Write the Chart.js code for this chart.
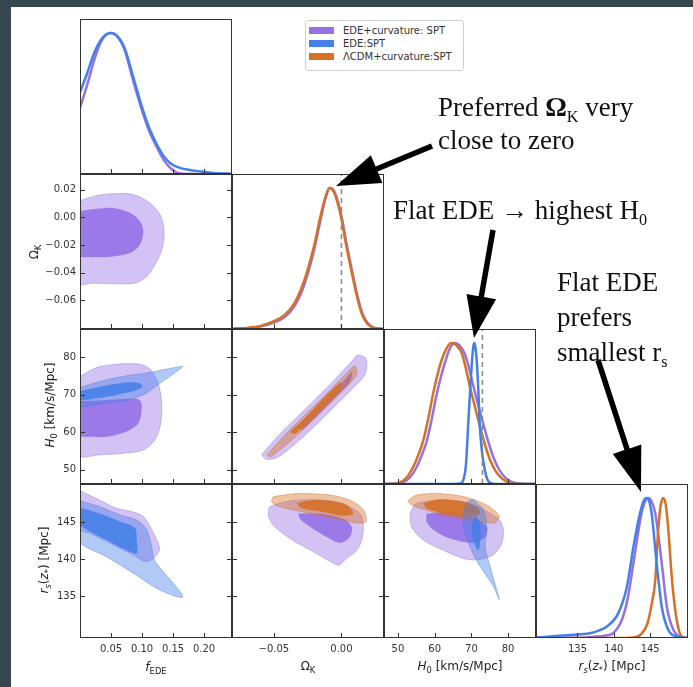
<!DOCTYPE html>
<html>
<head>
<meta charset="utf-8">
<script src="https://cdn.jsdelivr.net/npm/chart.js@4.4.0/dist/chart.umd.min.js"></script>
<style>
html, body { margin: 0; padding: 0; }
body { width: 693px; height: 687px; background: #37474f; position: relative; overflow: hidden; font-family: "DejaVu Sans", sans-serif; }
#sheet { position: absolute; left: 11px; top: 7px; right: 0; bottom: 0; background: #fff; }
canvas { position: absolute; }
.lab { position: absolute; font-size: 12px; color: #222; white-space: nowrap; transform: translate(-50%, -50%); }
.lab.rot { transform: translate(-50%, -50%) rotate(-90deg); }
.lab sub { font-size: 70%; line-height: 0; vertical-align: -0.3em; }
.note { position: absolute; font-family: "Liberation Serif", serif; font-size: 27px; color: #111; white-space: nowrap; }
.note sub { font-size: 60%; line-height: 0; vertical-align: -0.35em; }
#legend { position: absolute; left: 305px; top: 20px; width: 157px; height: 49px; border: 1px solid #d0d0d0; border-radius: 3px; background: #fff; font-size: 10px; color: #333; }
#legend .row { position: absolute; left: 3px; height: 12px; line-height: 12px; white-space: nowrap; }
#legend .sw { display: inline-block; width: 25px; height: 7px; vertical-align: middle; margin-right: 9px; position: relative; top: -1px; }
svg { position: absolute; left: 0; top: 0; }
</style>
</head>
<body>
<div id="sheet"></div>

<script>
// axis ranges and tick values
const fRange = [0, 0.245];
const kRange = [-0.081, 0.0315];
const hRange = [46.2, 87.6];
const rRange = [129.3, 150.2];
const fTicks = [0.05, 0.10, 0.15, 0.20];
const kTicks = [-0.05, 0.00];
const kTicksY = [0.02, 0.00, -0.02, -0.04, -0.06];
const hTicks = [50, 60, 70, 80];
const rTicks = [135, 140, 145];
const kRef = 0;    // dashed line, Omega_K panel
const h0Ref = 73;  // dashed line, H0 panel

const seriesNames = ["EDE+curvature: SPT", "EDE:SPT", "\u039BCDM+curvature:SPT"];

// 1D marginals [value, relative density]
const pF1 = [[0,0.47],[0.012,0.64],[0.023,0.81],[0.034,0.94],[0.049,1.0],[0.061,0.97],[0.072,0.88],[0.084,0.69],[0.1,0.45],[0.112,0.3],[0.124,0.19],[0.135,0.1],[0.145,0.045],[0.155,0.012],[0.165,0.002],[0.18,0],[0.245,0]];
const bF1 = [[0,0.58],[0.012,0.72],[0.023,0.86],[0.035,0.96],[0.05,1.0],[0.062,0.97],[0.073,0.88],[0.085,0.70],[0.101,0.46],[0.113,0.31],[0.125,0.2],[0.136,0.12],[0.146,0.075],[0.16,0.045],[0.175,0.03],[0.195,0.018],[0.215,0.008],[0.245,0.002]];

const pK1 = [[-0.081,0.001],[-0.07,0.006],[-0.06,0.018],[-0.05,0.045],[-0.042,0.085],[-0.035,0.16],[-0.03,0.25],[-0.025,0.39],[-0.02,0.57],[-0.016,0.75],[-0.012,0.92],[-0.0085,1.0],[-0.0055,0.98],[-0.0025,0.9],[0.0005,0.78],[0.0035,0.62],[0.0075,0.43],[0.0115,0.25],[0.0155,0.11],[0.0195,0.04],[0.0245,0.008],[0.0315,0]];
const oK1 = [[-0.081,0.001],[-0.07,0.008],[-0.06,0.022],[-0.05,0.055],[-0.042,0.1],[-0.035,0.18],[-0.03,0.28],[-0.025,0.42],[-0.02,0.6],[-0.016,0.78],[-0.012,0.93],[-0.009,1.0],[-0.006,0.98],[-0.003,0.9],[0.0,0.78],[0.003,0.62],[0.007,0.43],[0.011,0.25],[0.015,0.11],[0.019,0.04],[0.024,0.008],[0.0315,0]];

const pH1 = [[46.2,0],[49.5,0.002],[51.3,0.01],[53.2,0.045],[55,0.115],[56.4,0.2],[57.8,0.3],[59.2,0.46],[60.5,0.63],[61.8,0.77],[62.9,0.87],[64.1,0.96],[65.3,1.0],[66.7,0.985],[68.1,0.93],[69.3,0.83],[70.4,0.71],[71.8,0.565],[73.2,0.43],[74.6,0.3],[76,0.19],[77.4,0.11],[78.9,0.055],[80.5,0.02],[82.5,0.005],[85,0],[87.6,0]];
const bH1 = [[46.2,0],[64,0],[66.9,0.003],[67.8,0.03],[68.5,0.13],[69.2,0.455],[69.7,0.68],[70.1,0.85],[70.5,0.97],[70.8,1.0],[71.1,0.97],[71.45,0.88],[71.9,0.66],[72.3,0.41],[72.8,0.25],[73.25,0.16],[73.9,0.07],[74.6,0.02],[75.5,0.004],[77,0],[87.6,0]];
const oH1 = [[46.2,0],[49,0.003],[50.6,0.012],[52.5,0.05],[54.2,0.123],[55.6,0.21],[56.9,0.31],[58.3,0.47],[59.6,0.644],[60.8,0.78],[61.9,0.88],[63.2,0.96],[64.45,1.0],[65.9,0.985],[67.4,0.928],[68.5,0.82],[69.6,0.69],[71,0.545],[72.35,0.407],[73.7,0.28],[75.1,0.17],[76.4,0.1],[77.8,0.052],[79.5,0.018],[81.3,0.004],[84,0],[87.6,0]];

const pR1 = [[129.3,0],[135,0.001],[137.6,0.01],[139.1,0.02],[139.9,0.034],[141.1,0.129],[141.96,0.295],[142.9,0.605],[143.8,0.89],[144.35,0.98],[144.75,1.0],[145.15,0.98],[145.7,0.89],[146.6,0.53],[147.3,0.22],[148.2,0.057],[149.35,0.005],[150.2,0]];
const bR1 = [[129.3,0.003],[131.2,0.01],[134,0.021],[135.5,0.027],[136.7,0.034],[138,0.055],[139,0.081],[140.6,0.176],[141.8,0.366],[142.7,0.652],[143.6,0.89],[144.1,0.98],[144.5,1.0],[144.85,0.98],[145.2,0.89],[145.9,0.53],[146.6,0.22],[147.5,0.057],[148.65,0.01],[149.5,0.002],[150.2,0]];
const oR1 = [[129.3,0],[141.5,0],[142.9,0.005],[143.8,0.03],[144.6,0.1],[145.2,0.24],[145.7,0.414],[146.1,0.77],[146.45,0.95],[146.8,1.0],[147.15,0.95],[147.5,0.77],[148.0,0.414],[148.65,0.129],[149.35,0.01],[150.2,0]];

// 2D contours (68% inner, 95% outer)
// f_EDE vs Omega_K
const pOutFK = [[-0.003,0.0117],[0.0269,0.0158],[0.0592,0.0173],[0.0859,0.0166],[0.1128,0.0105],[0.129,0.002],[0.1354,-0.0089],[0.1333,-0.0211],[0.1236,-0.032],[0.1075,-0.0429],[0.0887,-0.0477],[0.0537,-0.0482],[0.0214,-0.0477],[-0.003,-0.0477]];
const pInFK = [[-0.003,0.0044],[0.0269,0.0062],[0.0537,0.0069],[0.0806,0.0033],[0.0967,-0.0028],[0.1021,-0.0101],[0.0967,-0.0198],[0.0806,-0.0259],[0.0537,-0.0283],[0.0269,-0.0288],[-0.003,-0.0271]];
// f_EDE vs H0
const pOutFH = [[-0.003,74.7],[0.0269,77.3],[0.0592,78.2],[0.0967,78.2],[0.1128,76.9],[0.1262,72.9],[0.1317,67.8],[0.1301,62.4],[0.1209,58.0],[0.1021,55.3],[0.0699,54.4],[0.0322,54.0],[-0.003,54.0]];
const pInFH = [[-0.003,68.3],[0.0322,68.5],[0.0752,68.9],[0.0967,68.6],[0.0994,66.0],[0.094,62.4],[0.0752,60.2],[0.043,58.8],[0.0161,58.8],[-0.003,59.3]];
const bOutFH = [[-0.003,71.8],[0.0322,73.6],[0.0752,75.1],[0.1128,76.0],[0.1397,76.9],[0.1655,77.6],[0.1612,76.9],[0.129,73.1],[0.102,70.0],[0.0752,68.6],[0.0322,67.6],[-0.003,67.0]];
const bInFH = [[-0.003,70.9],[0.0322,72.2],[0.0645,73.1],[0.0914,73.3],[0.101,72.4],[0.0914,71.3],[0.0592,70.0],[0.0269,69.1],[-0.003,68.7]];
// f_EDE vs r_s
const pOutFR = [[-0.003,149.4],[0.0322,148.0],[0.0592,146.9],[0.0859,146.4],[0.1021,145.8],[0.1156,144.0],[0.1262,142.15],[0.1279,141.2],[0.1183,140.1],[0.1048,139.7],[0.0914,140.3],[0.0484,142.15],[0.0161,143.5],[-0.003,144.2]];
const bOutFR = [[-0.003,148.0],[0.0322,147.1],[0.0645,146.0],[0.0914,145.3],[0.1075,144.0],[0.1156,141.7],[0.1182,140.3],[0.1236,139.4],[0.1655,134.9],[0.129,135.8],[0.086,138.1],[0.043,140.3],[-0.003,142.6]];
const bInFR = [[-0.003,147.1],[0.0322,146.2],[0.0645,145.1],[0.0887,144.2],[0.0914,142.6],[0.0914,140.8],[0.0752,141.2],[0.043,142.6],[-0.003,144.9]];
// Omega_K vs H0
const pOutKH = [[-0.059,54.0],[-0.0475,58.8],[-0.0327,64.1],[-0.0179,69.4],[-0.0031,74.8],[0.0080,79.1],[0.0120,80.6],[0.0182,79.6],[0.0175,75.5],[0.0085,71.8],[-0.0063,66.5],[-0.0211,61.2],[-0.0359,56.4],[-0.0475,53.3],[-0.0555,52.8]];
const pInKH = [[-0.0307,61.96],[-0.0159,67.3],[-0.0011,72.6],[0.0078,76.1],[0.0063,73.4],[-0.0048,69.2],[-0.0196,63.8],[-0.0292,60.6]];
const oOutKH = [[-0.0551,54.0],[-0.0418,59.3],[-0.0270,64.6],[-0.0122,69.9],[0.0026,75.3],[0.0100,77.7],[0.0115,75.6],[0.0026,71.8],[-0.0122,66.5],[-0.0270,61.2],[-0.0418,56.4],[-0.0529,53.4]];
const oInKH = [[-0.0381,60.1],[-0.0270,63.8],[-0.0159,68.1],[-0.0048,72.1],[0.0004,73.4],[-0.0011,71.3],[-0.0122,67.3],[-0.0233,63.3],[-0.0344,59.6]];
// Omega_K vs r_s
const pOutKR = [[-0.0541,145.8],[-0.0529,147.1],[-0.0331,148.0],[-0.0035,147.8],[0.0137,146.2],[0.0162,144.6],[0.015,142.6],[0.0113,141.2],[0.0039,140.1],[-0.0023,139.2],[-0.0085,139.7],[-0.0208,141.0],[-0.0381,142.8],[-0.0504,144.6]];
const pInKR = [[-0.0319,146.2],[-0.0159,146.2],[0.0014,145.5],[0.0076,144.4],[0.0063,143.0],[-0.0011,142.2],[-0.0109,143.0],[-0.0233,144.4],[-0.0307,145.5]];
const oOutKR = [[-0.0504,148.5],[-0.0331,148.9],[-0.0085,148.7],[0.0063,148.0],[0.0162,146.7],[0.0182,145.1],[0.0113,144.9],[-0.0085,145.7],[-0.0282,146.4],[-0.0455,147.1],[-0.0516,147.8]];
const oInKR = [[-0.0331,147.6],[-0.0233,148.0],[-0.0085,147.9],[0.0039,147.35],[0.0088,146.2],[0.0014,145.9],[-0.0134,146.4],[-0.0294,146.9]];
// H0 vs r_s
const pOutHR = [[53.3,146.2],[55.1,147.6],[67.8,147.8],[77.3,145.5],[78.7,144.0],[78.3,142.2],[76.0,140.6],[71.45,139.9],[67.8,140.1],[62.4,141.2],[56.9,142.6],[53.7,144.4]];
const pInHR = [[57.8,146.2],[63.3,146.4],[69.6,145.8],[74.2,144.4],[73.7,143.0],[70.5,142.2],[64.2,142.8],[59.6,144.0],[57.8,145.1]];
const oOutHR = [[52.8,148.0],[55.1,148.7],[60.6,148.9],[67.8,148.5],[74.2,147.35],[77.6,145.8],[76.0,144.9],[69.6,145.3],[62.4,146.0],[56.0,146.9],[53.3,147.5]];
const oInHR = [[56.9,147.6],[60.6,148.1],[66.9,147.9],[71.45,147.1],[72.35,146.2],[68.7,145.8],[62.4,146.2],[57.8,146.9]];
const bOutHR = [[70.5,148.1],[73.25,146.7],[74.2,144.0],[73.7,141.7],[75.1,139.0],[77.6,134.5],[76.0,136.3],[71.9,139.4],[69.2,142.2],[67.8,144.9],[68.3,147.1],[69.2,147.9]];
const bInHR = [[71.0,146.0],[72.35,144.9],[72.5,143.0],[71.9,141.2],[70.5,142.6],[70.1,144.4]];

// layout
const COLX = [80, 232, 384, 536], COLW = 152;
const ROWY = [19, 174, 329, 484], ROWH = [155, 155, 155, 154];
const YAXW = 68, XAXH = 49;

const PURPLE = '149,112,230', BLUE = '69,127,232', ORANGE = '214,112,36';
const seriesColors = [PURPLE, BLUE, ORANGE];

const AX = {
    f: { range: fRange, ticks: fTicks, dec: 2 },
    k: { range: kRange, ticks: kTicks, dec: 2 },
    kY: { range: kRange, ticks: kTicksY, dec: 2 },
    h: { range: hRange, ticks: hTicks, dec: 0 },
    r: { range: rRange, ticks: rTicks, dec: 0 }
};

const fmt = (v, d) => (v < -1e-9 ? '\u2212' : '') + Math.abs(v).toFixed(d);

function axis(ax, show, isX) {
    return {
        type: 'linear',
        min: ax.range[0], max: ax.range[1],
        display: show,
        border: { display: false },
        grid: { display: false, drawTicks: false },
        ticks: {
            font: { family: 'DejaVu Sans', size: 10 },
            color: '#333',
            padding: isX ? 5 : 4,
            maxRotation: 0,
            autoSkip: false,
            callback: v => fmt(v, ax.dec)
        },
        afterBuildTicks: s => { s.ticks = ax.ticks.map(v => ({ value: v })); },
        afterFit: s => {
            if (isX) s.height = show ? XAXH : 0; else s.width = show ? YAXW : 0;
            s.paddingTop = s.paddingBottom = s.paddingLeft = s.paddingRight = 0;
        }
    };
}

// box and inward tick marks
function frame(xt, yt) {
    return {
        id: 'frame',
        afterDraw(chart) {
            const { ctx, chartArea: a, scales } = chart;
            ctx.save();
            ctx.strokeStyle = '#333';
            ctx.lineWidth = 1;
            ctx.strokeRect(a.left + 0.5, a.top + 0.5, a.right - a.left - 1, a.bottom - a.top - 1);
            ctx.beginPath();
            xt.forEach(v => {
                const x = Math.round(scales.x.getPixelForValue(v)) + 0.5;
                ctx.moveTo(x, a.bottom); ctx.lineTo(x, a.bottom - 5);
            });
            yt.forEach(v => {
                const y = Math.round(scales.y.getPixelForValue(v)) + 0.5;
                ctx.moveTo(a.left, y); ctx.lineTo(a.left + 5, y);
                ctx.moveTo(a.right, y); ctx.lineTo(a.right - 5, y);
            });
            ctx.stroke();
            ctx.restore();
        }
    };
}

const closed = pts => pts.concat([pts[0]]);

function region(pts, rgb, inner, order) {
    return {
        data: closed(pts),
        fill: 'shape',
        backgroundColor: `rgba(${rgb},${inner ? 0.88 : 0.42})`,
        borderColor: inner ? 'rgba(0,0,0,0)' : `rgba(${rgb},0.55)`,
        borderWidth: inner ? 0 : 0.8,
        pointRadius: 0,
        tension: 0.3,
        order
    };
}

function curve(pts, rgb, order) {
    return {
        data: pts,
        fill: false,
        borderColor: `rgb(${rgb})`,
        borderWidth: 2.5,
        pointRadius: 0,
        cubicInterpolationMode: 'monotone',
        order
    };
}

function refLine(x) {
    return {
        data: [[x, 0], [x, 1.1]],
        fill: false,
        borderColor: '#888',
        borderWidth: 1.5,
        borderDash: [5, 4],
        pointRadius: 0,
        order: 0
    };
}

function makePanel(col, row, xa, ya, datasets) {
    const oneD = !ya;
    const showY = col === 0 && !oneD;
    const showX = row === 3;
    const cv = document.createElement('canvas');
    cv.width = COLW + (showY ? YAXW : 0);
    cv.height = ROWH[row] + (showX ? XAXH : 0);
    cv.style.left = (COLX[col] - (showY ? YAXW : 0)) + 'px';
    cv.style.top = ROWY[row] + 'px';
    document.body.appendChild(cv);
    new Chart(cv, {
        type: 'line',
        data: { datasets },
        options: {
            responsive: false,
            animation: false,
            events: [],
            layout: { padding: 0 },
            plugins: { legend: { display: false }, tooltip: { enabled: false } },
            scales: {
                x: axis(xa, showX, true),
                y: oneD ? { type: 'linear', min: 0, max: 1.1, display: false } : axis(ya, showY, false)
            }
        },
        plugins: [frame(xa.ticks, oneD ? [] : ya.ticks)]
    });
}

// diagonal
makePanel(0, 0, AX.f, null, [curve(pF1, PURPLE, 2), curve(bF1, BLUE, 1)]);
makePanel(1, 1, AX.k, null, [curve(pK1, PURPLE, 2), curve(oK1, ORANGE, 1), refLine(kRef)]);
makePanel(2, 2, AX.h, null, [curve(pH1, PURPLE, 3), curve(oH1, ORANGE, 2), curve(bH1, BLUE, 1), refLine(h0Ref)]);
makePanel(3, 3, AX.r, null, [curve(pR1, PURPLE, 3), curve(oR1, ORANGE, 2), curve(bR1, BLUE, 1)]);

// lower triangle
makePanel(0, 1, AX.f, AX.kY, [region(pOutFK, PURPLE, false, 6), region(pInFK, PURPLE, true, 5)]);
makePanel(0, 2, AX.f, AX.h, [region(pOutFH, PURPLE, false, 6), region(pInFH, PURPLE, true, 5),
    region(bOutFH, BLUE, false, 2), region(bInFH, BLUE, true, 1)]);
makePanel(1, 2, AX.k, AX.h, [region(pOutKH, PURPLE, false, 6), region(pInKH, PURPLE, true, 5),
    region(oOutKH, ORANGE, false, 4), region(oInKH, ORANGE, true, 3)]);
makePanel(0, 3, AX.f, AX.r, [region(pOutFR, PURPLE, false, 6),
    region(bOutFR, BLUE, false, 2), region(bInFR, BLUE, true, 1)]);
makePanel(1, 3, AX.k, AX.r, [region(pOutKR, PURPLE, false, 6), region(pInKR, PURPLE, true, 5),
    region(oOutKR, ORANGE, false, 4), region(oInKR, ORANGE, true, 3)]);
makePanel(2, 3, AX.h, AX.r, [region(pOutHR, PURPLE, false, 6), region(pInHR, PURPLE, true, 5),
    region(oOutHR, ORANGE, false, 4), region(oInHR, ORANGE, true, 3),
    region(bOutHR, BLUE, false, 2), region(bInHR, BLUE, true, 1)]);
</script>

<div class="lab" style="left:156px;top:667px"><i>f</i><sub>EDE</sub></div>
<div class="lab" style="left:308px;top:666px">&Omega;<sub>K</sub></div>
<div class="lab" style="left:460px;top:666px"><i>H</i><sub>0</sub> [km/s/Mpc]</div>
<div class="lab" style="left:612px;top:666px"><i>r<sub>s</sub></i>(<i>z</i><sub>*</sub>) [Mpc]</div>
<div class="lab rot" style="left:34px;top:252px">&Omega;<sub>K</sub></div>
<div class="lab rot" style="left:50px;top:405px"><i>H</i><sub>0</sub> [km/s/Mpc]</div>
<div class="lab rot" style="left:44px;top:560px"><i>r<sub>s</sub></i>(<i>z</i><sub>*</sub>) [Mpc]</div>

<div id="legend"></div>

<svg width="693" height="687" id="arrows"></svg>

<div class="note" style="left:438px;top:91px;line-height:33px">Preferred <b>&Omega;</b><sub>K</sub> very<br>close to zero</div>
<div class="note" style="left:393px;top:194px;line-height:33px">Flat EDE &rarr; highest H<sub>0</sub></div>
<div class="note" style="left:557px;top:265px;line-height:35px">Flat EDE<br>prefers<br>smallest r<sub>s</sub></div>

<script>
// legend rows
const legend = document.getElementById('legend');
seriesNames.forEach((name, i) => {
    const row = document.createElement('div');
    row.className = 'row';
    row.style.top = (4 + i * 13) + 'px';
    row.innerHTML = `<span class="sw" style="background:rgb(${seriesColors[i]})"></span>${name}`;
    legend.appendChild(row);
});

// annotation arrows
function arrow(x1, y1, x2, y2, sw, hl, hw) {
    const len = Math.hypot(x2 - x1, y2 - y1);
    const ux = (x2 - x1) / len, uy = (y2 - y1) / len;
    const nx = -uy, ny = ux;
    const bx = x2 - ux * hl, by = y2 - uy * hl;
    const p = [
        [x1 + nx * sw / 2, y1 + ny * sw / 2],
        [bx + nx * sw / 2, by + ny * sw / 2],
        [bx + nx * hw / 2, by + ny * hw / 2],
        [x2, y2],
        [bx - nx * hw / 2, by - ny * hw / 2],
        [bx - nx * sw / 2, by - ny * sw / 2],
        [x1 - nx * sw / 2, y1 - ny * sw / 2]
    ];
    const poly = document.createElementNS('http://www.w3.org/2000/svg', 'polygon');
    poly.setAttribute('points', p.map(q => q[0].toFixed(1) + ',' + q[1].toFixed(1)).join(' '));
    poly.setAttribute('fill', '#000');
    document.getElementById('arrows').appendChild(poly);
}
arrow(432, 146, 336, 186, 5.5, 44, 30);
arrow(493, 230, 474, 338, 5.5, 42, 30);
arrow(598, 360, 641, 492, 5.5, 45, 30);
</script>
</body>
</html>
